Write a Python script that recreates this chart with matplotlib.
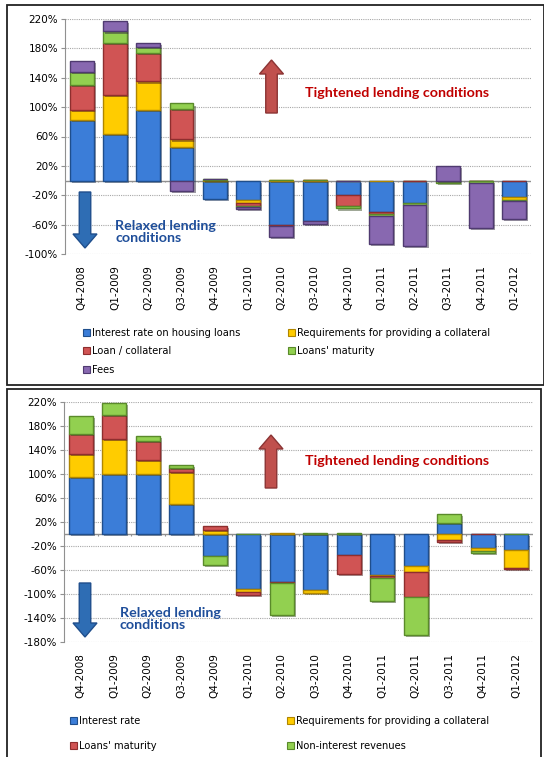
import numpy as np
import matplotlib
matplotlib.use("Agg")
import matplotlib.pyplot as plt
import matplotlib.patheffects as pe
from matplotlib.patches import Rectangle, FancyArrow, Patch

quarters = ["Q4-2008", "Q1-2009", "Q2-2009", "Q3-2009", "Q4-2009", "Q1-2010", "Q2-2010",
            "Q3-2010", "Q4-2010", "Q1-2011", "Q2-2011", "Q3-2011", "Q4-2011", "Q1-2012"]

# top chart: housing loans
top_rate = [82, 63, 96, 46, -25, -27, -60, -55, -20, -43, -30, 0, 0, -23]
top_coll_req = [14, 53, 39, 10, 1, -4, 1, 1, 0, 0, 0, 0, -1, -3]
top_loan_coll = [34, 71, 39, 41, 0, -3, -2, 0, -15, -2, 0, 0, 0, 0]
top_maturity = [18, 16, 8, 8, 1, -2, 0, 0, -3, -3, -3, -3, -2, -2]
top_fees = [15, 14, 5, -14, 0, -3, -15, -4, 0, -38, -56, 20, -61, -24]
top_labels = ["Interest rate on housing loans", "Requirements for providing a collateral",
              "Loan / collateral", "Loans' maturity", "Fees"]
top_ticks = [220, 180, 140, 100, 60, 20, -20, -60, -100]

# bottom chart
bot_rate = [95, 100, 100, 50, -37, -92, -80, -94, -35, -68, -54, 18, -24, -27]
bot_coll_req = [39, 58, 24, 53, 6, -4, 1, -4, 0, -2, -9, -10, -5, -29]
bot_maturity = [33, 41, 31, 7, 8, -5, -2, 0, -31, -4, -42, -3, 0, -3]
bot_nonint = [29, 19, 8, 5, -15, 0, -53, 1, 1, -38, -64, 15, -3, 0]
bot_labels = ["Interest rate", "Requirements for providing a collateral",
              "Loans' maturity", "Non-interest revenues"]
bot_ticks = [220, 180, 140, 100, 60, 20, -20, -60, -100, -140, -180]

BLUE = ("#3B7DD8", "#1F4E8C")
YELLOW = ("#FFCC00", "#B08600")
RED = ("#D05454", "#8E2E2E")
GREEN = ("#92D050", "#5A8A2A")
PURPLE = ("#8868B0", "#4F3A70")

W, H = 544, 757
fig = plt.figure(figsize=(W / 100, H / 100), dpi=100)
FONT = "DejaVu Sans"
LEG_FS = 7.1


def ax_rect(x0, y0, x1, y1):
    return [x0 / W, 1 - y1 / H, (x1 - x0) / W, (y1 - y0) / H]


def stacked(ax, series, colors):
    x = np.arange(len(quarters))
    pos = np.zeros(len(quarters))
    neg = np.zeros(len(quarters))
    shadow = [pe.SimplePatchShadow(offset=(1.5, -1.5), alpha=0.45), pe.Normal()]
    for vals, (fc, ec) in zip(series, colors):
        v = np.array(vals, dtype=float)
        bottom = np.where(v >= 0, pos, neg)
        bars = ax.bar(x, v, bottom=bottom, width=0.72, color=fc, edgecolor=ec,
                      linewidth=1.0, zorder=3)
        for b in bars:
            if b.get_height() != 0:
                b.set_path_effects(shadow)
        pos = pos + np.where(v > 0, v, 0)
        neg = neg + np.where(v < 0, v, 0)


def style_axes(ax, ticks):
    ax.set_xlim(-0.5, len(quarters) - 0.5)
    ax.set_ylim(ticks[-1], ticks[0])
    ax.set_yticks(ticks)
    ax.set_yticklabels(["%d%%" % t for t in ticks], fontsize=7.5, family=FONT)
    for t in ticks:
        ax.axhline(t, color="#A8A8A8", lw=0.8, ls=(0, (1, 1)), zorder=1)
    ax.axhline(0, color="#909090", lw=1.0, zorder=2)
    ax.vlines(np.arange(len(quarters)) - 0.5, 0, -(ticks[0] - ticks[-1]) * 0.008,
              color="#909090", lw=0.8, zorder=2)
    ax.set_xticks(np.arange(len(quarters)))
    ax.set_xticklabels(quarters, rotation=90, fontsize=7.5, family=FONT)
    ax.tick_params(axis="x", length=0, pad=8)
    ax.tick_params(axis="y", length=3, color="#909090", pad=2)
    for s in ["top", "right", "bottom"]:
        ax.spines[s].set_visible(False)
    ax.spines["left"].set_color("#909090")
    ax.patch.set_alpha(0)


def arrow(x, y0, y1, fc, ec):
    # arrow in pixel positions, drawn in inches so heads keep their shape
    a = FancyArrow(x / 100, (H - y0) / 100, 0, -(y1 - y0) / 100, width=0.115,
                   head_width=0.24, head_length=0.14, length_includes_head=True,
                   transform=fig.dpi_scale_trans, facecolor=fc, edgecolor=ec, lw=1.0)
    fig.add_artist(a)


def legend(handles, labels, x, y, spacing):
    fig.legend(handles, labels, loc="upper left", bbox_to_anchor=(x / W, 1 - y / H),
               frameon=False, fontsize=LEG_FS, handlelength=0.7, handleheight=0.7,
               handletextpad=0.25, labelspacing=spacing, borderaxespad=0, borderpad=0)


# panel frames
fig.add_artist(Rectangle((7 / W, 1 - 385 / H), 537 / W, 380 / H, transform=fig.transFigure,
                         fill=False, edgecolor="#222222", lw=1.3))
fig.add_artist(Rectangle((7 / W, 1 - 760 / H), 534 / W, 371 / H, transform=fig.transFigure,
                         fill=False, edgecolor="#222222", lw=1.3))

# ---- top chart
ax1 = fig.add_axes(ax_rect(65, 19, 531, 254))
stacked(ax1, [top_rate, top_coll_req, top_loan_coll, top_maturity, top_fees],
        [BLUE, YELLOW, RED, GREEN, PURPLE])
style_axes(ax1, top_ticks)

arrow(271.5, 113, 60, "#C0504D", "#8B3434")
arrow(85, 192, 248, "#2E6DB4", "#1F4E8C")
fig.text(305 / W, 1 - 93 / H, "Tightened lending conditions", color="#C00000",
         fontsize=10.3, fontweight="bold", family="Lato", va="center")
fig.text(115 / W, 1 - 232 / H, "Relaxed lending\nconditions", color="#1F4E9A",
         fontsize=10.3, fontweight="bold", family="Lato", va="center", linespacing=1.0)

cols = [BLUE, YELLOW, RED, GREEN, PURPLE]
h1 = [Patch(facecolor=c[0], edgecolor=c[1], lw=0.8) for c in cols]
legend([h1[0], h1[2], h1[4]], [top_labels[0], top_labels[2], top_labels[4]], 83, 328, 0.85)
legend([h1[1], h1[3]], [top_labels[1], top_labels[3]], 288, 328, 0.85)

# ---- bottom chart
ax2 = fig.add_axes(ax_rect(64, 402, 533, 642))
stacked(ax2, [bot_rate, bot_coll_req, bot_maturity, bot_nonint], [BLUE, YELLOW, RED, GREEN])
style_axes(ax2, bot_ticks)

arrow(271, 488, 435, "#C0504D", "#8B3434")
arrow(85, 583, 637, "#2E6DB4", "#1F4E8C")
fig.text(305 / W, 1 - 461 / H, "Tightened lending conditions", color="#C00000",
         fontsize=10.3, fontweight="bold", family="Lato", va="center")
fig.text(120 / W, 1 - 619 / H, "Relaxed lending\nconditions", color="#1F4E9A",
         fontsize=10.3, fontweight="bold", family="Lato", va="center", linespacing=1.0)

cols2 = [BLUE, YELLOW, RED, GREEN]
h2 = [Patch(facecolor=c[0], edgecolor=c[1], lw=0.8) for c in cols2]
legend([h2[0], h2[2]], [bot_labels[0], bot_labels[2]], 70, 716, 1.5)
legend([h2[1], h2[3]], [bot_labels[1], bot_labels[3]], 287, 716, 1.5)

fig.savefig("out.png", dpi=100)
